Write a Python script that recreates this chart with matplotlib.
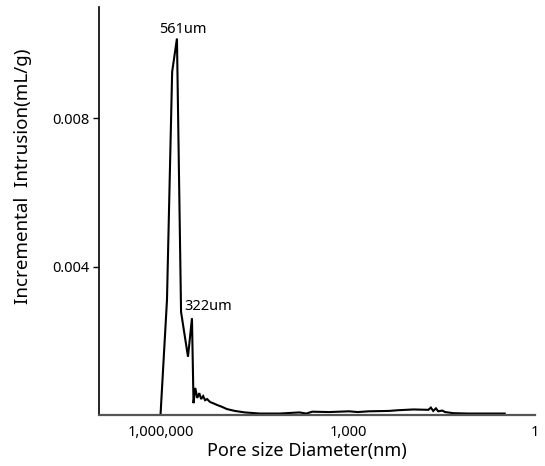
import numpy as np
import matplotlib
matplotlib.use("Agg")
import matplotlib.pyplot as plt
from matplotlib.ticker import FixedLocator, FuncFormatter

plt.rcParams['font.family'] = ['Noto Sans', 'DejaVu Sans']

# Pore diameter (nm) and incremental intrusion (mL/g)
diameter = [1.03e6, 8.11e5, 6.7e5, 5.61e5, 4.82e5, 3.73e5, 3.22e5, 3.04e5,
            2.85e5, 2.65e5, 2.46e5, 2.29e5, 2.13e5, 1.98e5, 1.84e5, 1.65e5,
            1.48e5, 1.27e5, 1.06e5, 8.83e4, 6.58e4, 4.56e4, 2.63e4, 1.26e4,
            6.07e3, 4.7e3, 3.77e3, 2.02e3, 971, 700, 467, 224, 155, 89.5,
            51.6, 47, 43.1, 39, 35.8, 31, 27.7, 20.7, 11.9, 5.7, 3.07]
intrusion = [0.0, 0.0031, 0.00925, 0.01015, 0.00278, 0.00157, 0.00261, 0.00032,
             0.00073, 0.00046, 0.00059, 0.00043, 0.00051, 0.00040, 0.00043, 0.00035,
             0.00032, 0.00027, 0.00022, 0.00016, 0.00011, 0.00007, 0.00004, 0.00004,
             0.00007, 0.00004, 0.00009, 0.00008, 0.00010, 0.00008, 0.00010, 0.00011, 0.00013, 0.00015,
             0.00014, 0.00020, 0.00011, 0.00018, 0.00010, 0.00012, 0.00008, 0.00005, 0.00004, 0.00004, 0.00004]

x_ticks = [1e6, 1e3, 1]
y_ticks = [0.004, 0.008]

fig = plt.figure(figsize=(5.45, 4.66), dpi=100)
ax = fig.add_axes([0.1817, 0.1094, 0.8, 0.8756])

ax.plot(diameter, intrusion, color='black', lw=1.5, solid_joinstyle='miter')

ax.set_xscale('log')
ax.set_xlim(1e7, 1)
ax.set_ylim(0, 0.011)

ax.xaxis.set_major_locator(FixedLocator(x_ticks))
ax.xaxis.set_minor_locator(FixedLocator([]))
ax.xaxis.set_major_formatter(FuncFormatter(lambda v, p: f"{int(round(v)):,}"))
ax.yaxis.set_major_locator(FixedLocator(y_ticks))
ax.yaxis.set_major_formatter(FuncFormatter(lambda v, p: f"{v:.3f}"))

ax.tick_params(axis='x', length=0, pad=7, labelsize=10.5)
ax.tick_params(axis='y', length=4, width=1, pad=3, labelsize=10.5)

ax.spines['top'].set_visible(False)
ax.spines['right'].set_visible(False)
ax.spines['left'].set_linewidth(1.2)
ax.spines['bottom'].set_color('#555555')
ax.spines['bottom'].set_linewidth(1.6)

ax.set_xlabel('Pore size Diameter(nm)', fontsize=13)
ax.set_ylabel('Incremental  Intrusion(mL/g)', fontsize=13.5)
ax.xaxis.set_label_coords(0.477, -0.067)
ax.yaxis.set_label_coords(-0.154, 0.584)

ax.annotate('561um', xy=(5.61e5, 0.01015), xytext=(6, 9), textcoords='offset pixels',
            ha='center', va='center', fontsize=10.5)
ax.annotate('322um', xy=(3.22e5, 0.00261), xytext=(-7.5, 11.5), textcoords='offset pixels',
            ha='left', va='center', fontsize=10.5)

fig.savefig('out.png', dpi=100)
